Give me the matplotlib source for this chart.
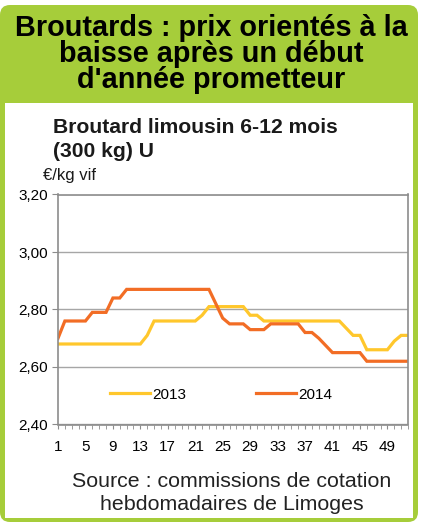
import matplotlib.pyplot as plt
from matplotlib.patches import FancyBboxPatch, Rectangle

# weekly quotations, weeks 1..52
weeks = list(range(1, 53))
prix_2013 = [2.68, 2.68, 2.68, 2.68, 2.68, 2.68, 2.68, 2.68, 2.68, 2.68,
             2.68, 2.68, 2.68, 2.71, 2.76, 2.76, 2.76, 2.76, 2.76, 2.76,
             2.76, 2.78, 2.81, 2.81, 2.81, 2.81, 2.81, 2.81, 2.78, 2.78,
             2.76, 2.76, 2.76, 2.76, 2.76, 2.76, 2.76, 2.76, 2.76, 2.76,
             2.76, 2.76, 2.735, 2.71, 2.71, 2.66, 2.66, 2.66, 2.66, 2.69,
             2.71, 2.71]
prix_2014 = [2.70, 2.76, 2.76, 2.76, 2.76, 2.79, 2.79, 2.79, 2.84, 2.84,
             2.87, 2.87, 2.87, 2.87, 2.87, 2.87, 2.87, 2.87, 2.87, 2.87,
             2.87, 2.87, 2.87, 2.82, 2.77, 2.75, 2.75, 2.75, 2.73, 2.73,
             2.73, 2.75, 2.75, 2.75, 2.75, 2.75, 2.72, 2.72, 2.70, 2.675,
             2.65, 2.65, 2.65, 2.65, 2.65, 2.62, 2.62, 2.62, 2.62, 2.62,
             2.62, 2.62]
xtick_labels = [1, 5, 9, 13, 17, 21, 25, 29, 33, 37, 41, 45, 49]
yticks = [2.40, 2.60, 2.80, 3.00, 3.20]

W, H = 423, 525
green = "#a6cd3a"
fig = plt.figure(figsize=(W / 100, H / 100), dpi=100)
plt.rcParams['font.family'] = ['Liberation Sans', 'DejaVu Sans']

# background frame (pixel coordinates via a full-figure axes)
bg = fig.add_axes([0, 0, 1, 1])
bg.set_xlim(0, W)
bg.set_ylim(H, 0)
bg.axis("off")
bg.add_patch(FancyBboxPatch((0, 5), 418, 517, boxstyle="round,pad=0,rounding_size=10",
                            fc=green, ec="none"))
bg.add_patch(Rectangle((5, 103), 408, 415, fc="white", ec="none"))

title = "Broutards : prix orientés à la\nbaisse après un début\nd'année prometteur"
bg.text(211, 88, title, fontsize=20.8, fontweight="bold", ha="center",
        va="baseline", multialignment="center", linespacing=0.9, color="black")

bg.text(53, 157, "Broutard limousin 6-12 mois\n(300 kg) U", fontsize=15.2,
        fontweight="bold", va="baseline", linespacing=1.35, color="#1a1a1a")
bg.text(43, 180, "€/kg vif", fontsize=12, va="baseline", color="#1a1a1a")

bg.text(232, 510, "Source : commissions de cotation\nhebdomadaires de Limoges", fontsize=15.4,
        ha="center", va="baseline", multialignment="center", linespacing=1.25,
        color="#222222")

# chart
ax = fig.add_axes([58 / W, 1 - 424.5 / H, 350 / W, 230 / H])
ax.plot(weeks, prix_2013, color="#ffc72c", lw=2.3, label="2013", solid_joinstyle="miter")
ax.plot(weeks, prix_2014, color="#f26d25", lw=2.3, label="2014", solid_joinstyle="miter")
ax.set_xlim(1, 52)
ax.set_ylim(2.40, 3.20)
ax.set_yticks(yticks)
ax.set_yticklabels([f"{v:.2f}".replace(".", ",") for v in yticks])
ax.set_xticks(weeks, minor=True)
ax.set_xticks(xtick_labels)
ax.set_xticklabels([str(v) for v in xtick_labels])
ax.grid(axis="y", color="#a6a6a6", lw=1)
ax.set_axisbelow(True)
for s in ax.spines.values():
    s.set_color("#8c8c8c")
    s.set_linewidth(1.2)
ax.tick_params(axis="y", length=4, color="#8c8c8c", labelsize=11, pad=3)
ax.tick_params(axis="x", which="both", length=3, color="#8c8c8c", labelsize=11, pad=8)
ax.legend(loc="lower center", bbox_to_anchor=(0.466, 0.04), ncol=2, frameon=False,
          handlelength=2.6, columnspacing=4.6, handletextpad=0.15, fontsize=11)

fig.savefig("out.png", dpi=100)
